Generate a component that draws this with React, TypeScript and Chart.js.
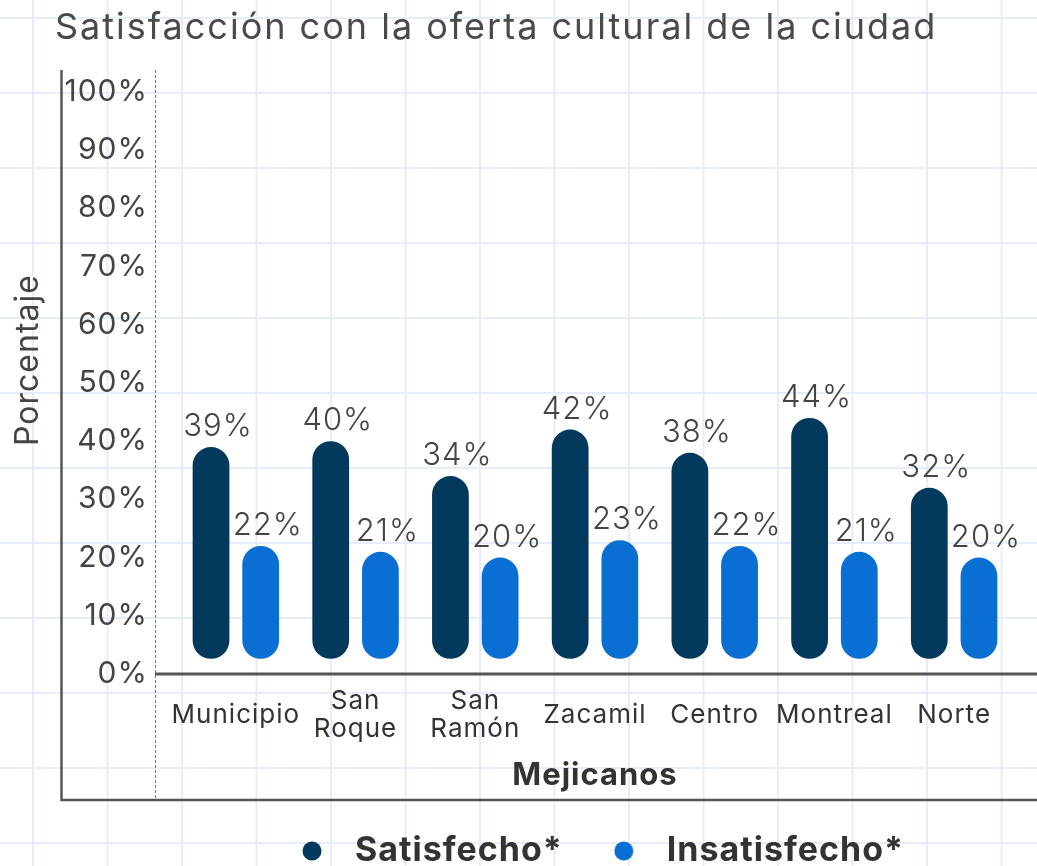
import React, { useEffect, useRef } from "react";
import { Chart, registerables } from "chart.js";

Chart.register(...registerables);

const chartTitle = "Satisfacción con la oferta cultural de la ciudad";
const yAxisTitle = "Porcentaje";
const xAxisTitle = "Mejicanos";
const categories: (string | string[])[] = [
  "Municipio",
  ["San", "Roque"],
  ["San", "Ramón"],
  "Zacamil",
  "Centro",
  "Montreal",
  "Norte",
];
const seriesLabels = ["Satisfecho*", "Insatisfecho*"];
const satisfecho = [39, 40, 34, 42, 38, 44, 32];
const insatisfecho = [22, 21, 20, 23, 22, 21, 20];
const seriesColors = ["#03395c", "#0a6fd2"];

const FONT = "Inter, 'Noto Sans', sans-serif";
const TEXT = "#444444";

function makeDot(color: string) {
  const c = document.createElement("canvas");
  c.width = 20;
  c.height = 20;
  const g = c.getContext("2d")!;
  g.fillStyle = color;
  g.beginPath();
  g.arc(10, 10, 9.5, 0, Math.PI * 2);
  g.fill();
  return c;
}

const spacingPlugin = {
  id: "spacing",
  beforeUpdate(chart: any) {
    chart.ctx.letterSpacing = "1px";
  },
  beforeDraw(chart: any) {
    chart.ctx.letterSpacing = "1px";
  },
};

const decorPlugin = {
  id: "decor",
  beforeDraw(chart: any) {
    const { ctx } = chart;
    const y = chart.scales.y;
    const zeroY = y.getPixelForValue(0);
    ctx.save();
    // title
    ctx.save();
    ctx.letterSpacing = "2px";
    ctx.fillStyle = "#4a4a4a";
    ctx.font = `400 36px ${FONT}`;
    ctx.textBaseline = "alphabetic";
    ctx.textAlign = "left";
    ctx.fillText(chartTitle, 55, 39);
    ctx.restore();
    // y axis title
    ctx.save();
    ctx.translate(28, 360);
    ctx.rotate(-Math.PI / 2);
    ctx.textAlign = "center";
    ctx.textBaseline = "middle";
    ctx.fillStyle = TEXT;
    ctx.font = `400 32px ${FONT}`;
    ctx.fillText(yAxisTitle, 0, 0);
    ctx.restore();
    // frame
    ctx.strokeStyle = "#555555";
    ctx.lineWidth = 2.5;
    ctx.beginPath();
    ctx.moveTo(61.5, 70);
    ctx.lineTo(61.5, 800);
    ctx.lineTo(1037, 800);
    ctx.stroke();
    // dashed separator
    ctx.lineWidth = 1;
    ctx.strokeStyle = "#777777";
    ctx.setLineDash([3, 2]);
    ctx.beginPath();
    ctx.moveTo(155.5, 70);
    ctx.lineTo(155.5, 800);
    ctx.stroke();
    ctx.setLineDash([]);
    // zero line
    ctx.lineWidth = 3;
    ctx.strokeStyle = "#555555";
    ctx.beginPath();
    ctx.moveTo(155, zeroY);
    ctx.lineTo(1037, zeroY);
    ctx.stroke();
    ctx.restore();
  },
  afterDatasetsDraw(chart: any) {
    const { ctx } = chart;
    ctx.save();
    ctx.fillStyle = TEXT;
    ctx.font = `300 31px ${FONT}`;
    ctx.textAlign = "center";
    ctx.textBaseline = "alphabetic";
    chart.data.datasets.forEach((ds: any, di: number) => {
      const meta = chart.getDatasetMeta(di);
      meta.data.forEach((el: any, i: number) => {
        ctx.fillText(`${ds.data[i]}%`, el.x + 7, el.y - 11);
      });
    });
    ctx.restore();
  },
};

export default function App() {
  const ref = useRef<HTMLCanvasElement>(null);

  useEffect(() => {
    if (!ref.current) return;
    const dots = seriesColors.map(makeDot);
    const chart = new Chart(ref.current, {
      type: "bar",
      data: {
        labels: categories,
        datasets: [
          {
            label: seriesLabels[0],
            data: satisfecho,
            backgroundColor: seriesColors[0],
            base: 2.6,
            borderRadius: 19,
            borderSkipped: false,
          } as any,
          {
            label: seriesLabels[1],
            data: insatisfecho,
            backgroundColor: seriesColors[1],
            base: 2.6,
            borderRadius: 19,
            borderSkipped: false,
          } as any,
        ],
      },
      options: {
        responsive: false,
        animation: false,
        devicePixelRatio: 1,
        layout: { padding: { top: 92, right: 23, bottom: 0, left: 0 } },
        datasets: {
          bar: { categoryPercentage: 0.83, barPercentage: 0.74 },
        },
        scales: {
          x: {
            grid: { display: false, drawTicks: false },
            border: { display: false },
            ticks: {
              color: "#333333",
              font: { family: FONT, size: 26, lineHeight: 1.08 },
              padding: 27,
              crossAlign: "center",
              maxRotation: 0,
              autoSkip: false,
            },
            title: {
              display: true,
              text: xAxisTitle,
              color: "#333333",
              font: { family: FONT, size: 31, weight: "bold", lineHeight: 1.2 },
              padding: { top: 0, bottom: 5 },
            },
            afterFit: (s: any) => {
              s.height = 125;
            },
          } as any,
          y: {
            min: 0,
            max: 100,
            grid: { display: false, drawTicks: false },
            border: { display: false },
            ticks: {
              stepSize: 10,
              color: TEXT,
              font: { family: FONT, size: 30 },
              padding: 28,
              callback: (v: any) => `${v}%`,
            },
            afterFit: (s: any) => {
              s.width = 176;
            },
          } as any,
        },
        plugins: {
          legend: {
            position: "bottom",
            fullSize: false,
            labels: {
              usePointStyle: true,
              pointStyleWidth: 52,
              padding: 35,
              color: "#333333",
              font: { family: FONT, size: 34, weight: "bold" },
              generateLabels: (c: any) =>
                Chart.defaults.plugins.legend.labels
                  .generateLabels(c)
                  .map((it: any, i: number) => ({ ...it, pointStyle: dots[i] })),
            },
          } as any,
          title: { display: false },
          tooltip: { enabled: false },
        },
      },
      plugins: [spacingPlugin, decorPlugin],
    });
    return () => chart.destroy();
  }, []);

  return (
    <div
      style={{
        position: "fixed",
        left: 0,
        top: 0,
        width: 1037,
        height: 866,
        overflow: "hidden",
        backgroundColor: "#ffffff",
        backgroundImage:
          "linear-gradient(to right, #e6edf8 2px, transparent 2px), linear-gradient(to bottom, #e6edf8 2px, transparent 2px)",
        backgroundSize: "74.5px 75px",
        backgroundPosition: "32px 17px",
      }}
    >
      <canvas ref={ref} width={1037} height={878} style={{ display: "block" }} />
    </div>
  );
}
